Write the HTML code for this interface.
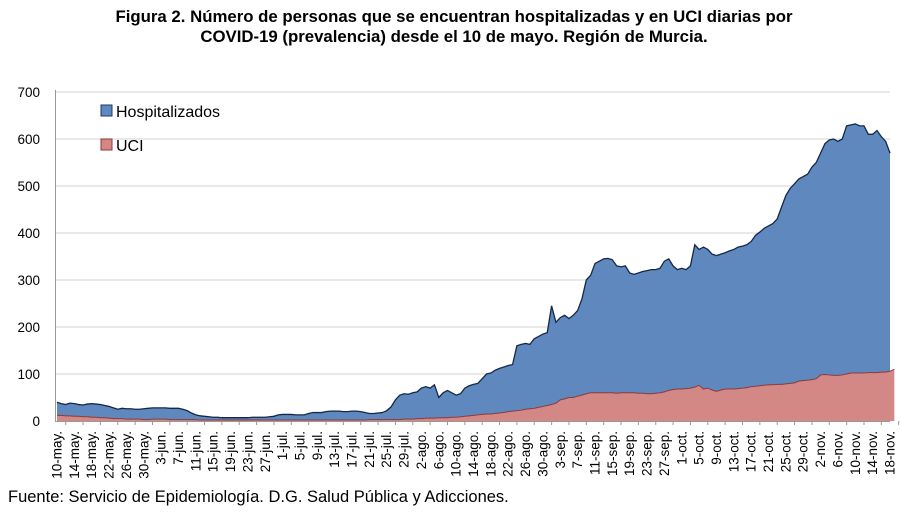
<!DOCTYPE html>
<html><head><meta charset="utf-8"><style>
body{margin:0;background:#fff;width:900px;height:512px;overflow:hidden;font-family:"Liberation Sans",sans-serif}
</style></head><body>
<svg id="chart" width="900" height="512" xmlns="http://www.w3.org/2000/svg" font-family="Liberation Sans, sans-serif">
<text x="454" y="22" text-anchor="middle" font-size="16.8" font-weight="bold">Figura 2. Número de personas que se encuentran hospitalizadas y en UCI diarias por</text>
<text x="454" y="42" text-anchor="middle" font-size="16.8" font-weight="bold">COVID-19 (prevalencia) desde el 10 de mayo. Región de Murcia.</text>
<g id="grid"></g><g id="areas"></g><g id="axes"></g>
<g>
<rect x="101" y="105" width="11" height="11" fill="#5f88be" stroke="#1f3a5f"/>
<text x="116" y="117" font-size="16">Hospitalizados</text>
<rect x="101" y="139" width="11" height="11" fill="#d48886" stroke="#8b3a3a"/>
<text x="116" y="151" font-size="16">UCI</text>
</g>
<text x="8" y="502" font-size="16.5">Fuente: Servicio de Epidemiología. D.G. Salud Pública y Adicciones.</text>
</svg>
<script>
const hospitalizados=[40,37,35,38,37,35,34,36,37,36,35,33,31,28,25,27,26,26,25,25,26,27,28,28,28,28,27,27,27,25,22,17,13,11,10,9,8,8,7,7,7,7,7,7,7,8,8,8,8,9,10,13,14,14,14,13,13,13,16,18,18,18,20,21,21,21,20,20,21,21,20,18,16,16,17,18,22,30,45,55,58,57,60,62,70,73,70,77,50,60,65,60,55,58,70,75,78,80,90,100,102,108,112,115,118,120,160,163,165,163,175,180,185,188,245,210,220,225,218,225,235,260,300,310,335,340,345,346,343,330,328,330,315,312,315,318,320,322,322,325,340,345,330,322,325,322,330,375,365,370,365,355,352,355,358,362,365,370,372,375,382,395,402,410,415,420,430,455,480,495,505,515,520,525,540,550,570,590,598,600,595,600,628,630,632,628,628,610,610,618,605,595,570];
const uci=[12,12,11,11,10,10,9,9,8,8,7,7,6,5,5,5,4,4,4,4,3,3,4,4,4,4,3,3,3,3,3,3,3,2,2,2,2,2,2,2,2,2,2,2,2,2,2,2,2,2,2,2,2,2,2,2,2,2,2,2,2,2,2,2,2,2,2,2,2,2,2,2,3,3,3,3,3,3,3,3,4,4,4,5,5,6,6,6,7,7,7,8,8,9,10,11,12,13,14,15,15,16,17,18,20,21,22,23,25,26,27,29,31,33,35,38,45,47,50,50,53,55,58,60,60,60,60,60,60,59,60,60,60,60,59,59,58,58,59,60,62,65,67,68,68,69,70,72,76,68,70,66,63,66,68,68,68,69,70,71,73,74,75,76,77,77,78,78,79,80,81,85,86,87,88,90,98,99,98,97,97,98,100,102,102,102,102,103,103,103,104,104,106,110];
const yTicks=[0,100,200,300,400,500,600,700];
const months=["ene","feb","mar","abr","may.","jun.","jul.","ago.","sep.","oct.","nov."];
const NS="http://www.w3.org/2000/svg";
const X0=57,X1=890,Y0=421,YPER=0.47;
const xs=i=>X0+i*(X1-X0)/(hospitalizados.length-1);
const ys=v=>Y0-v*YPER;
function mk(tag,attrs,parent){const e=document.createElementNS(NS,tag);for(const k in attrs)e.setAttribute(k,attrs[k]);parent.appendChild(e);return e;}
const grid=document.getElementById('grid'),areas=document.getElementById('areas'),axes=document.getElementById('axes');
yTicks.forEach(v=>{
  if(v>0){const l=mk('line',{x1:55,x2:890,y1:ys(v),y2:ys(v),stroke:'#dcdcdc','stroke-width':1.2},grid);
  
  }
  const t=mk('text',{x:40,y:ys(v)+5,'text-anchor':'end','font-size':13.5},axes);
  t.textContent=v;
  
  
});
function areaPath(arr){let d='M'+xs(0)+','+Y0;arr.forEach((v,i)=>d+=' L'+xs(i).toFixed(2)+','+ys(v).toFixed(2));return d+' L'+xs(arr.length-1)+','+Y0+' Z';}
function linePath(arr){return arr.map((v,i)=>(i?'L':'M')+xs(i).toFixed(2)+','+ys(v).toFixed(2)).join(' ');}
const ha=mk('path',{d:areaPath(hospitalizados),fill:'#5f88be'},areas);


const hl=mk('path',{d:linePath(hospitalizados),fill:'none',stroke:'#14294a','stroke-width':1.3},areas);


const ua=mk('path',{d:areaPath(uci),fill:'#d48886'},areas);


const ul=mk('path',{d:linePath(uci),fill:'none',stroke:'#8b3a3a','stroke-width':1},areas);


const ax=mk('line',{x1:55.5,x2:55.5,y1:90,y2:Y0,stroke:'#999'},axes);


const bx=mk('line',{x1:55,x2:890,y1:Y0+0.5,y2:Y0+0.5,stroke:'#999'},axes);


const start=new Date(2020,4,10);
for(let i=0;i<hospitalizados.length;i+=4){
  const d=new Date(start.getTime());d.setDate(start.getDate()+i);
  const lab=d.getDate()+'-'+months[d.getMonth()];
  const x=xs(i);
  const tk=mk('line',{x1:x+8.7,x2:x+8.7,y1:Y0,y2:Y0+4,stroke:'#999'},axes);
  
  
  const t=mk('text',{x:0,y:0,'text-anchor':'end','font-size':13.5,transform:`translate(${x+4.5},${Y0+10}) rotate(-90)`},axes);
  t.textContent=lab;
  
  
}
</script>
</body></html>
